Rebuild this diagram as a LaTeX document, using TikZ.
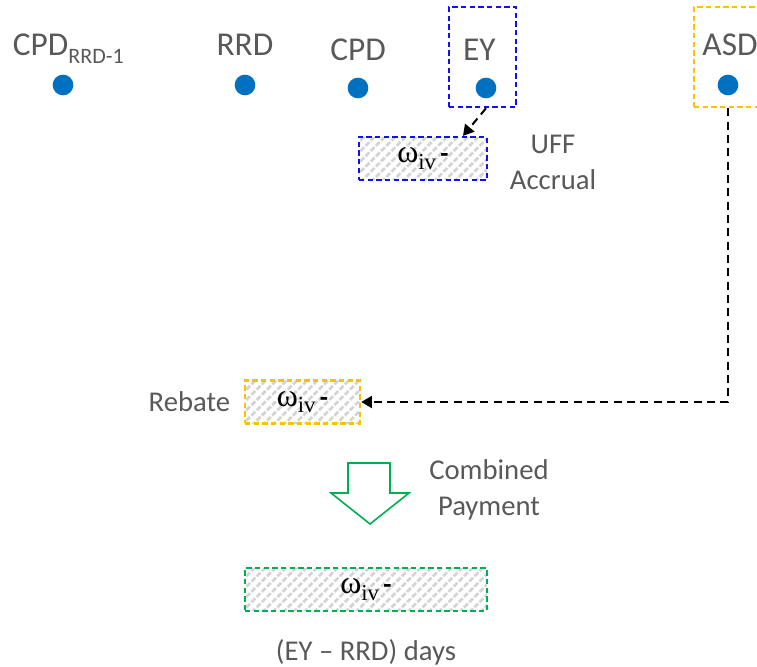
\documentclass[tikz,border=0pt]{standalone}
\usepackage{fontspec}
\setmainfont{Carlito}
\newfontfamily\omegafont{Liberation Serif}
\usetikzlibrary{arrows.meta,positioning,patterns.meta}
\definecolor{dotblue}{HTML}{0070C0}
\definecolor{boxblue}{HTML}{1010F0}
\definecolor{boxorange}{HTML}{FFC000}
\definecolor{boxgreen}{HTML}{00B050}
\definecolor{labelgray}{HTML}{595959}
\newcommand{\omegaiv}{{\omegafont\fontsize{24}{26}\selectfont ω\raisebox{-5pt}{\fontsize{17}{18}\selectfont iv}}\,\textbf{-}}

\begin{document}
\begin{tikzpicture}[
        x=0.75pt,y=-0.75pt,
        dot/.style={circle,fill=dotblue,minimum size=15.5pt,inner sep=0pt},
        lbl/.style={text=labelgray,font=\fontsize{25}{28}\selectfont,inner sep=0pt},
        note/.style={text=labelgray,font=\fontsize{21.5}{26.5}\selectfont,align=center,inner sep=0pt},
        frame/.style={dashed,line width=1.9pt,dash pattern=on 4pt off 2.5pt,inner sep=0pt},
        amount/.style={frame,pattern={Lines[angle=45,distance=5.5pt,line width=2pt]},pattern color=black!17,
            minimum height=32pt,font=\fontsize{20}{24}\selectfont},
        link/.style={-{Triangle[length=8pt,width=9pt]},line width=1.5pt,dash pattern=on 6pt off 4pt}
    ]
        \useasboundingbox (0,0) rectangle (757,667);

        % time points
        \node[dot] (cpdone) at (63,85) {};
        \node[dot] (rrd) at (245,85) {};
        \node[dot] (cpd) at (358,88) {};
        \node[dot] (ey) at (486,88) {};
        \node[dot] (asd) at (728,85) {};

        \node[lbl,above=14.5pt of cpdone,anchor=base,xshift=4pt] (cpdonelbl)
            {CPD\raisebox{-6.5pt}{\fontsize{16.5}{18}\selectfont RRD-1}};
        \node[lbl,above=14.5pt of rrd,anchor=base] (rrdlbl) {RRD};
        \node[lbl,above=13pt of cpd,anchor=base] (cpdlbl) {CPD};
        \node[lbl,above=13pt of ey,anchor=base,xshift=-5pt] (eylbl) {EY};
        \node[lbl,above=14.5pt of asd,anchor=base,xshift=1.5pt] (asdlbl) {ASD};

        \node[frame,draw=boxblue,minimum width=50.25pt,minimum height=75pt] (eyframe) at (482.5,57) {};
        \node[frame,draw=boxorange,minimum width=50.25pt,minimum height=75pt] (asdframe) at (727.5,57) {};

        % amounts
        \node[amount,draw=boxblue,minimum width=96pt] (uff) at (423,158.5) {\omegaiv};
        \node[note] (ufflbl) at (553,162.5) {UFF\\Accrual};

        \node[amount,draw=boxorange,minimum width=86.25pt] (rebate) at (302.5,402) {\omegaiv};
        \node[note,left=10pt of rebate] (rebatelbl) {Rebate};

        \node[amount,draw=boxgreen,minimum width=181.5pt] (combined) at (366,589.5) {\omegaiv};
        \node[note,below=20pt of combined] (dayslbl) {(EY -- RRD) days};

        \node[note] (combinedlbl) at (489,490) {Combined\\Payment};

        % block arrow
        \draw[boxgreen,line width=1.2pt] (348,463) -- (390,463) -- (390,493) -- (409,493)
            -- (370,524) -- (331,493) -- (348,493) -- cycle;

        \draw[link] (ey |- eyframe.south) -- ([xshift=30pt]uff.north);
        \draw[link] (asd |- asdframe.south) |- (rebate.east);
    \end{tikzpicture}
\end{document}
